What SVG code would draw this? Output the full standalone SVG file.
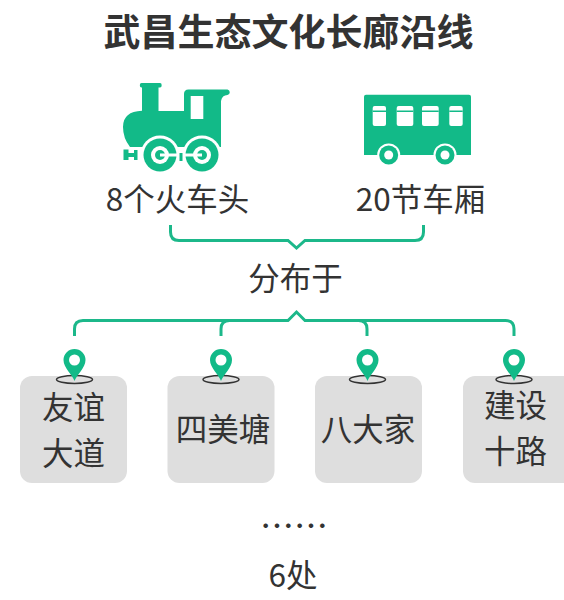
<svg xmlns="http://www.w3.org/2000/svg" width="564" height="600" viewBox="0 0 564 600">
<style>
text{font-family:"Noto Sans CJK SC","Noto Sans",sans-serif;fill:#333;text-anchor:middle;font-weight:400}
.t{font-size:31.500px}
.b{fill:#dedede}
.g{fill:#12ba88}
.w{fill:#fff}
.c{fill:none;stroke:#1cb88a;stroke-width:3;stroke-linecap:butt;stroke-linejoin:miter}
.r{fill:none;stroke:#333;stroke-width:1.500}
</style>
<defs>
<g id="pin">
<ellipse class="r" cx="0" cy="19.500" rx="18" ry="4"/>
<path class="g" d="M0 21C-2 15-11 8-11 0A11 11 0 0 1 11 0C11 8 2 15 0 21Z"/>
<circle class="w" cx="0" cy="0" r="5.500"/>
</g>
</defs>
<rect width="564" height="600" fill="#fff"/>
<text id="title" x="288.500" y="46" font-size="37" style="font-weight:700">武昌生态文化长廊沿线</text>
<g id="loco">
<path class="g" d="M141.500 83H160A1.500 2 0 0 1 160 87.500H158.500V111H184V94Q184 89.500 188.500 89.500H227.500A2.800 2.800 0 0 1 227.500 95Q222 95 221 101V147H130Q123 138 123 127Q123 111.500 142 110.800V87.500H141.500A1.500 2 0 0 1 141.500 83Z"/>
<path class="g" d="M123.500 149.500H128.500V153H134V150H137.500V160H134V157H128.500V160H123.500Z"/>
<rect class="w" x="190.700" y="96" width="12.600" height="23"/>
<circle class="w" cx="160" cy="155" r="19.500"/>
<circle class="w" cx="202" cy="155" r="19.500"/>
<circle class="g" cx="160" cy="155" r="16.500"/>
<circle class="g" cx="202" cy="155" r="16.500"/>
<circle class="w" cx="160" cy="155" r="9"/>
<circle class="w" cx="202" cy="155" r="9"/>
<circle class="g" cx="160" cy="155" r="5"/>
<circle class="g" cx="202" cy="155" r="5"/>
<rect class="w" x="160" y="153.500" width="42" height="3"/>
<rect class="w" x="178" y="148" width="6" height="14"/>
<rect class="g" x="179.500" y="153" width="3" height="8"/>
</g>
<g id="bus">
<path class="g" d="M366 94.700H469A2 2 0 0 1 471 96.700V155H364V96.700A2 2 0 0 1 366 94.700Z"/>
<g class="w">
<rect x="372.700" y="106" width="13.300" height="20" rx="2"/>
<rect x="396.700" y="106" width="16.600" height="20" rx="2"/>
<rect x="422" y="106" width="16.700" height="20" rx="2"/>
<rect x="449.300" y="106" width="13.400" height="20" rx="2"/>
</g>
<g class="g">
<rect x="372.700" y="110.500" width="13.300" height="1.500"/>
<rect x="396.700" y="110.500" width="16.600" height="1.500"/>
<rect x="422" y="110.500" width="16.700" height="1.500"/>
<rect x="449.300" y="110.500" width="13.400" height="1.500"/>
</g>
<circle class="w" cx="388.700" cy="155" r="11.500"/>
<circle class="g" cx="388.700" cy="155" r="9.500"/>
<circle class="w" cx="388.700" cy="155" r="4.500"/>
<circle class="w" cx="445" cy="155" r="11.500"/>
<circle class="g" cx="445" cy="155" r="9.500"/>
<circle class="w" cx="445" cy="155" r="4.500"/>
</g>
<text id="l1" class="t" x="177.500" y="211">8个火车头</text>
<text id="l2" class="t" x="420.500" y="211">20节车厢</text>
<g id="connectors">
<path class="c" d="M170.500 225V232Q170.500 240.500 179 240.500H288L296.500 248L305 240.500H415Q423.500 240.500 423.500 232V225"/>
<path class="c" d="M74.500 336V329Q74.500 320.500 83 320.500H288L296.500 312L305 320.500H505.500Q514 320.500 514 329V336"/>
<path class="c" d="M221 336V329Q221 320.500 229.500 320.500M358.500 320.500Q367 320.500 367 329V336"/>
</g>
<text id="l3" class="t" x="295.500" y="290">分布于</text>
<g id="n1"><rect class="b" x="20" y="376" width="107" height="107" rx="12"/><use href="#pin" x="74.500" y="360"/><text class="t" x="73.500" y="419">友谊</text><text class="t" x="73.500" y="465">大道</text></g>
<g id="n2"><rect class="b" x="167.500" y="376" width="107" height="107" rx="12"/><use href="#pin" x="221" y="360"/><text class="t" x="223" y="441">四美塘</text></g>
<g id="n3"><rect class="b" x="315" y="376" width="107" height="107" rx="12"/><use href="#pin" x="367.500" y="360"/><text class="t" x="368" y="441">八大家</text></g>
<g id="n4"><rect class="b" x="463" y="376" width="120" height="107" rx="12"/><use href="#pin" x="514" y="360"/><text class="t" x="515.500" y="417">建设</text><text class="t" x="515.500" y="463">十路</text></g>
<text id="dots" class="t" x="294" y="539" style="font-size:34px">……</text>
<text id="l4" class="t" x="293" y="587">6处</text>
</svg>
